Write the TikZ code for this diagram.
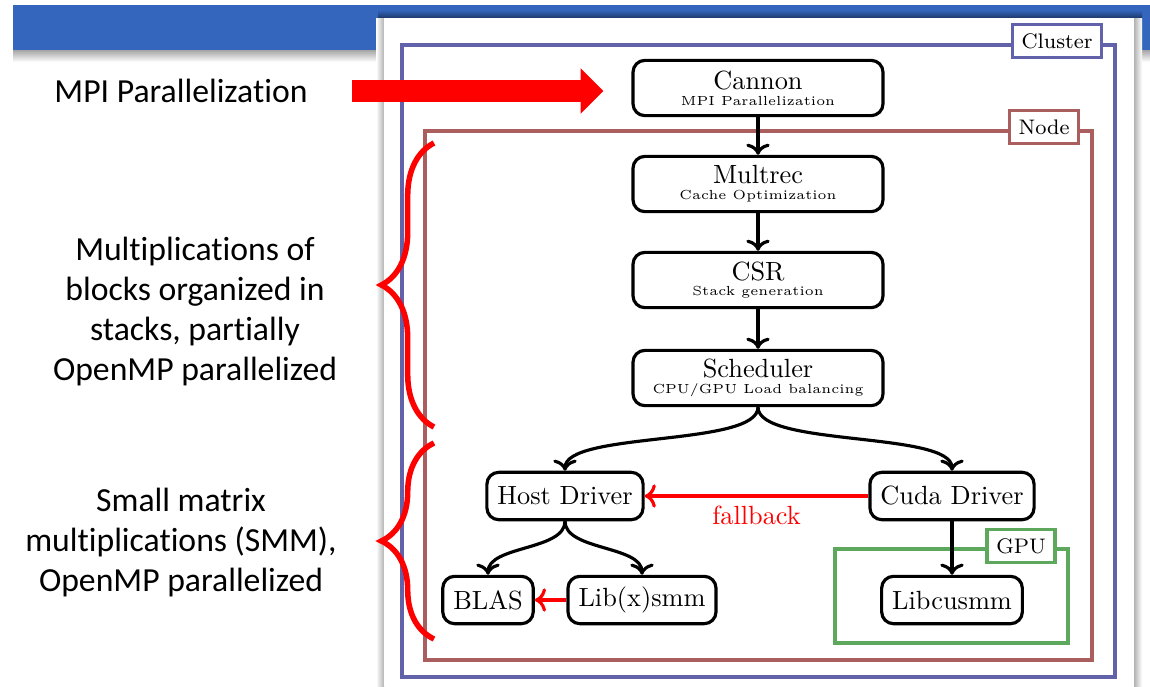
\documentclass[tikz,border=0pt]{standalone}
\usepackage{fontspec}
\newfontfamily\slidefont{Carlito}[Ligatures=CommonOff]
\usetikzlibrary{decorations.pathreplacing, arrows.meta}
\definecolor{slideblue}{RGB}{52,102,190}
\definecolor{clustercol}{RGB}{98,98,170}
\definecolor{nodecol}{RGB}{170,94,94}
\definecolor{gpucol}{RGB}{94,168,94}

\begin{document}
\begin{tikzpicture}[x=0.38pt, y=-0.38pt,
    box/.style={draw, very thick, rounded corners=4.5pt, inner sep=4pt, minimum height=18pt, fill=white},
    bigbox/.style={box, align=center, minimum width=95pt, minimum height=21pt, inner sep=3pt},
    framelabel/.style={draw=#1, very thick, fill=white, font=\footnotesize, inner sep=3.5pt},
    slidetext/.style={font=\slidefont\fontsize{12.8}{15.2}\selectfont, align=center},
    conn/.style={very thick, ->},
    fb/.style={very thick, ->, red},
    bigarrow/.style={red, line width=8.4pt, -{Triangle[length=8.7pt, width=16.7pt]}},
    redbrace/.style={red, line width=2.1pt, decorate, decoration={brace, amplitude=20pt}}]
        \useasboundingbox (0,0) rectangle (1150,686);
        \fill[slideblue] (13,5) rectangle (1150,50);
        \shade[top color=black!35, bottom color=white] (13,50) rectangle (1150,62);
        \shade[top color=slideblue, bottom color=black!45!slideblue] (378,10) rectangle (1142,18);
        \shade[left color=white, right color=black!30] (376,18) rectangle (384,686);
        \shade[left color=black!30, right color=white] (1134,18) rectangle (1142,686);
        \fill[white] (384,18) rectangle (1134,686);

        \draw[clustercol, very thick] (402,45) rectangle (1115,677);
        \node[framelabel=clustercol] (clusterlbl) at (1057,41) {Cluster};
        \draw[nodecol, very thick] (425,131) rectangle (1092,660);
        \node[framelabel=nodecol] (nodelbl) at (1044,127) {Node};
        \draw[gpucol, very thick] (835,549) rectangle (1068,643);
        \node[framelabel=gpucol] (gpulbl) at (1021,546) {GPU};

        \node[bigbox] (cannon) at (758,88) {Cannon\\[-6pt]\tiny MPI Parallelization};
        \node[bigbox] (multrec) at (758,184) {Multrec\\[-6pt]\tiny Cache Optimization};
        \node[bigbox] (csr) at (758,280) {CSR\\[-6pt]\tiny Stack generation};
        \node[bigbox] (sched) at (758,378) {Scheduler\\[-6pt]\tiny CPU/GPU Load balancing};
        \node[box] (host) at (565,496) {Host Driver};
        \node[box] (cuda) at (952,496) {Cuda Driver};
        \node[box] (blas) at (488,600) {BLAS};
        \node[box] (libxsmm) at (642,600) {Lib(x)smm};
        \node[box] (libcusmm) at (952,600) {Libcusmm};

        \foreach \a/\b in {cannon/multrec, multrec/csr, csr/sched, cuda/libcusmm}
            \draw[conn] (\a) -- (\b);
        \foreach \b in {host, cuda}
            \draw[conn] (sched.south) to[out=-90, in=90, looseness=.5] (\b.north);
        \foreach \b in {blas, libxsmm}
            \draw[conn] (host.south) to[out=-90, in=90, looseness=.8] (\b.north);
        \draw[fb] (cuda) -- node[below] {fallback} (host);
        \draw[fb] (libxsmm) -- (blas);

        \node[slidetext] (mpi) at (181,91) {MPI Parallelization};
        \node[slidetext] (stacks) at (195,312) {Multiplications of\\blocks organized in\\stacks, partially\\OpenMP parallelized};
        \node[slidetext] (smm) at (181,543) {Small matrix\\multiplications (SMM),\\OpenMP parallelized};
        \draw[bigarrow, shorten <=13.3pt, shorten >=10.6pt] (mpi.east) -- (mpi.east -| cannon.west);
        \draw[redbrace] (434,427) -- (434,143);
        \draw[redbrace] (434,639) -- (434,443);
\end{tikzpicture}
\end{document}
